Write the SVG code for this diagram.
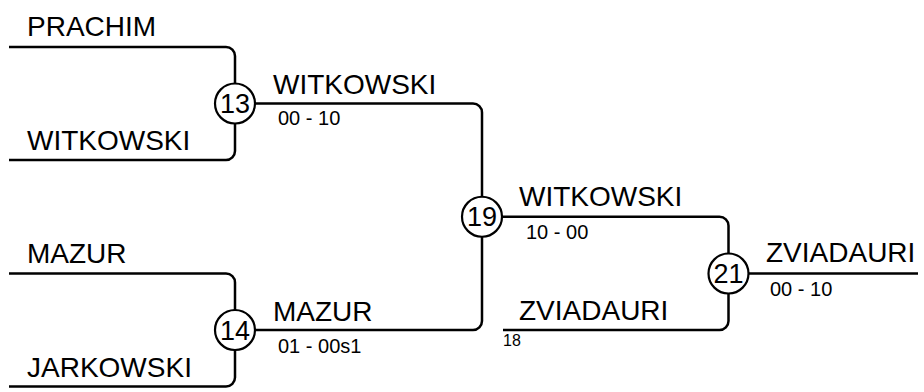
<svg xmlns="http://www.w3.org/2000/svg" width="924" height="392" viewBox="0 0 924 392">
<style>
.ln{fill:none;stroke:#000;stroke-width:2.5;stroke-linejoin:round}
.nd{fill:#fff;stroke:#000;stroke-width:2.2}
.nm{font-family:"Liberation Sans",Arial,sans-serif;font-size:28px;fill:#000}
.sc{font-family:"Liberation Sans",Arial,sans-serif;font-size:20px;fill:#000}
.sm{font-family:"Liberation Sans",Arial,sans-serif;font-size:16px;fill:#000}
.num{font-family:"Liberation Sans",Arial,sans-serif;font-size:27px;fill:#000;text-anchor:middle}
</style>
<rect width="924" height="392" fill="#fff"/>
<g id="connectors">
<path class="ln" d="M9,47 H226 A9,9 0 0 1 235,56 V151 A9,9 0 0 1 226,160 H9"/>
<path class="ln" d="M9,273.5 H226 A9,9 0 0 1 235,282.5 V377.5 A9,9 0 0 1 226,386.5 H9"/>
<path class="ln" d="M235,103.5 H473 A9,9 0 0 1 482,112.5 V321 A9,9 0 0 1 473,330 H235"/>
<path class="ln" d="M482,216.75 H719.5 A9,9 0 0 1 728.5,225.75 V321 A9,9 0 0 1 719.5,330 H503"/>
<path class="ln" d="M728.5,273.5 H918"/>
</g>
<g id="labels">
<text class="nm" x="27" y="36">PRACHIM</text>
<text class="nm" x="27" y="150">WITKOWSKI</text>
<text class="nm" x="27" y="263">MAZUR</text>
<text class="nm" x="27" y="377">JARKOWSKI</text>
<text class="nm" x="273" y="94">WITKOWSKI</text>
<text class="sc" x="278" y="125">00 - 10</text>
<text class="nm" x="273" y="321">MAZUR</text>
<text class="sc" x="278" y="353">01 - 00s1</text>
<text class="nm" x="519" y="206">WITKOWSKI</text>
<text class="sc" x="526" y="239">10 - 00</text>
<text class="nm" x="519" y="320">ZVIADAURI</text>
<text class="sm" x="503" y="346">18</text>
<text class="nm" x="766" y="262">ZVIADAURI</text>
<text class="sc" x="770" y="296">00 - 10</text>
</g>
<g id="node13"><circle class="nd" cx="235" cy="103.5" r="20"/><text class="num" x="235" y="113">13</text></g>
<g id="node14"><circle class="nd" cx="235" cy="330" r="20"/><text class="num" x="235" y="339.5">14</text></g>
<g id="node19"><circle class="nd" cx="482" cy="216.75" r="20"/><text class="num" x="482" y="226.3">19</text></g>
<g id="node21"><circle class="nd" cx="728.5" cy="273.5" r="20"/><text class="num" x="728.5" y="283">21</text></g>
</svg>
